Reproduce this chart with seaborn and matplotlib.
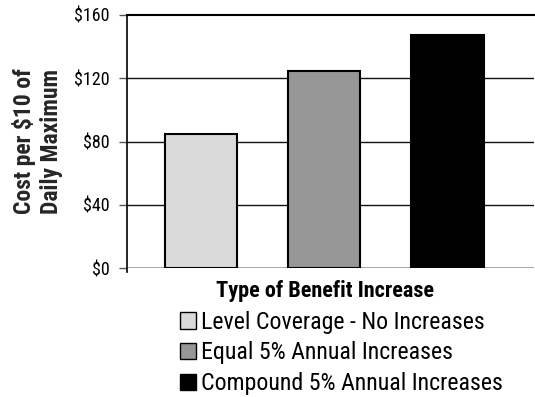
import seaborn as sns
import matplotlib.pyplot as plt
from matplotlib import font_manager
from matplotlib.patches import Patch

# values
categories = [
    "Level Coverage - No Increases",
    "Equal 5% Annual Increases",
    "Compound 5% Annual Increases",
]
costs = [85, 124.5, 147.5]
bar_colors = ["#dadada", "#969696", "#000000"]
y_ticks = [0, 40, 80, 120, 160]
y_tick_labels = ["$0", "$40", "$80", "$120", "$160"]

sns.set_style("white")
installed = {f.name for f in font_manager.fontManager.ttflist}
narrow = [n for n in ["Roboto Condensed", "Liberation Sans Narrow",
                      "Liberation Sans"] if n in installed]
plt.rcParams["font.family"] = narrow[:1] + ["DejaVu Sans"]
plt.rcParams["text.color"] = "black"
plt.rcParams["ytick.color"] = "black"

fig = plt.figure(figsize=(5.35, 3.97), dpi=100)
ax = fig.add_axes([0.237, 0.324, 0.761, 0.639])

sns.barplot(x=categories, y=costs, hue=categories, palette=bar_colors,
            order=categories, hue_order=categories, dodge=False,
            width=0.585, edgecolor="black", linewidth=1.5,
            legend=False, ax=ax, zorder=3)

# light dotted fill on the first bar
first = ax.patches[0]
if hasattr(first, "set_hatchcolor"):
    first.set_facecolor("#e4e4e4")
    first.set_hatch("....")
    first.set_hatchcolor("#c4c4c4")

ax.set_xlim(-0.6, 2.7)
ax.set_ylim(0, 160)
ax.set_yticks(y_ticks)
ax.set_yticklabels(y_tick_labels, fontsize=13)
ax.set_xticks([])
ax.set_xlabel("")

# gridlines
for v in [40, 80, 120]:
    ax.axhline(v, color="#111111", lw=1.0, zorder=1)

for s in ["right", "bottom"]:
    ax.spines[s].set_visible(False)
ax.spines["top"].set_color("black")
ax.spines["top"].set_linewidth(1.5)
ax.spines["left"].set_color("black")
ax.spines["left"].set_linewidth(1.2)
ax.spines["left"].set_bounds(-2, 160)
ax.axhline(0, color="#a0a0a0", lw=2, zorder=2)
ax.tick_params(axis="y", direction="out", length=6, width=1, color="#555555",
               left=True, pad=6.5)

ax.set_ylabel("Cost per $10 of\nDaily Maximum", fontsize=17, fontweight="bold",
              linespacing=1.25)
ax.yaxis.set_label_coords(-0.156, 0.5)

fig.text(0.607, 0.266, "Type of Benefit Increase", ha="center", va="center",
         fontsize=16, fontweight="bold")

handles = [Patch(facecolor=c, edgecolor="black", linewidth=1) for c in bar_colors]
fig.legend(handles, categories, loc="upper left", bbox_to_anchor=(0.336, 0.217),
           frameon=False, fontsize=17.2, handlelength=0.66, handleheight=0.66,
           handletextpad=0.25, labelspacing=0.32, borderpad=0, borderaxespad=0)

fig.savefig("out.png", dpi=100)
